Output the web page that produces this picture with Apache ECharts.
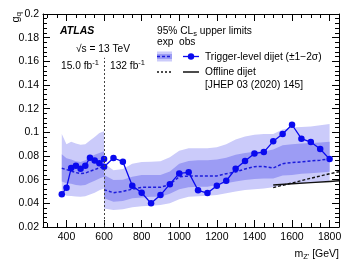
<!DOCTYPE html>
<html><head><meta charset="utf-8">
<script src="https://cdn.jsdelivr.net/npm/echarts@6/dist/echarts.min.js"></script>
<style>html,body{margin:0;padding:0;background:#fff}#c{width:352px;height:271px}</style>
</head><body><div id="c"></div>
<script>
// ---- data ----
const xSeg1 = [375,400,425,450,475,500,525,550,575,600];
const obs1  = [0.0476,0.0532,0.0698,0.0718,0.0692,0.0718,0.0786,0.0763,0.0738,0.0775];
const exp1  = [0.0696,0.0685,0.0672,0.0660,0.0652,0.0655,0.0672,0.0685,0.0700,0.0712];
const p1s1  = [0.0815,0.0780,0.0770,0.0755,0.0750,0.0765,0.0790,0.0810,0.0825,0.0840];
const m1s1  = [0.0585,0.0570,0.0565,0.0555,0.0550,0.0555,0.0575,0.0590,0.0610,0.0625];
const p2s1  = [0.0985,0.0900,0.0920,0.0905,0.0895,0.0900,0.0930,0.0960,0.0995,0.1010];
const m2s1  = [0.0485,0.0465,0.0462,0.0458,0.0455,0.0460,0.0475,0.0490,0.0510,0.0525];

const xSeg2 = [600,650,700,750,800,850,900,950,1000,1050,1100,1150,1200,1250,1300,1350,1400,1450,1500,1550,1600,1650,1700,1750,1800];
const obs2  = [0.0710,0.0783,0.0752,0.0549,0.0489,0.0400,0.0470,0.0562,0.0653,0.0662,0.0510,0.0487,0.0549,0.0591,0.0692,0.0758,0.0822,0.0833,0.0924,0.0986,0.1064,0.0946,0.0918,0.0859,0.0774];
const exp2  = [0.0515,0.0490,0.0500,0.0520,0.0535,0.0535,0.0535,0.0560,0.0625,0.0630,0.0630,0.0630,0.0632,0.0650,0.0665,0.0690,0.0710,0.0712,0.0698,0.0735,0.0745,0.0750,0.0758,0.0765,0.0775];
const p1s2  = [0.0640,0.0597,0.0600,0.0625,0.0640,0.0640,0.0640,0.0670,0.0735,0.0758,0.0765,0.0765,0.0770,0.0785,0.0810,0.0825,0.0835,0.0838,0.0855,0.0890,0.0900,0.0905,0.0910,0.0915,0.0920];
const m1s2  = [0.0442,0.0413,0.0420,0.0442,0.0450,0.0455,0.0456,0.0480,0.0520,0.0535,0.0540,0.0540,0.0555,0.0570,0.0585,0.0597,0.0605,0.0610,0.0610,0.0635,0.0640,0.0650,0.0655,0.0660,0.0667];
const p2s2  = [0.0738,0.0680,0.0690,0.0735,0.0750,0.0752,0.0755,0.0790,0.0845,0.0865,0.0865,0.0865,0.0875,0.0900,0.0940,0.0965,0.0980,0.0985,0.0985,0.1025,0.1040,0.1045,0.1050,0.1060,0.1070];
const m2s2  = [0.0357,0.0343,0.0350,0.0366,0.0375,0.0380,0.0385,0.0400,0.0435,0.0455,0.0460,0.0465,0.0470,0.0485,0.0500,0.0512,0.0520,0.0525,0.0535,0.0550,0.0565,0.0570,0.0575,0.0580,0.0585];

const xOff   = [1500,1600,1700,1800,1850];
const offObs = [0.0555,0.0565,0.0575,0.0585,0.0590];
const offExp = [0.0533,0.0572,0.0612,0.0650,0.0667];

const xMajorTicks = [400,600,800,1000,1200,1400,1600,1800];
const xMinorTicks = [300,350,450,500,550,650,700,750,850,900,950,1050,1100,1150,1250,1300,1350,1450,1500,1550,1650,1700,1750,1850];
const lumiDivider = [600, 0.02, 0.163];

const FONT = 'Liberation Sans, Arial, Helvetica, sans-serif';
const LIGHT = '#cbcbfa', DARK = '#9c9cf4', BLUE = '#0a0aee';
const FS = 10.2;

function band(xs, lo, hi, color) {
  return {
    type: 'custom', silent: true, clip: true, z: 1,
    data: xs.map((x, i) => [x, lo[i], hi[i]]),
    encode: { x: 0, y: [1, 2] },
    renderItem: function (params, api) {
      if (params.dataIndex !== 0) return null;
      const pts = [];
      for (let i = 0; i < xs.length; i++) pts.push(api.coord([xs[i], hi[i]]));
      for (let i = xs.length - 1; i >= 0; i--) pts.push(api.coord([xs[i], lo[i]]));
      return { type: 'polygon', shape: { points: pts }, style: { fill: color, stroke: null } };
    }
  };
}
function pairs(xs, ys) { return xs.map((x, i) => [x, ys[i]]); }

const baseX = { type: 'value', min: 275, max: 1850, splitLine: { show: false }, gridIndex: 0 };
const chart = echarts.init(document.getElementById('c'), null, { renderer: 'canvas' });
chart.setOption({
  animation: false,
  backgroundColor: '#fff',
  grid: { left: 43, right: 13, top: 14, bottom: 44 },
  xAxis: [
    Object.assign({}, baseX, { position: 'bottom',
      axisLine: { show: true, lineStyle: { color: '#000', width: 1 } },
      axisTick: { show: true, inside: true, length: 7, customValues: xMajorTicks, lineStyle: { color: '#000' } },
      axisLabel: { show: true, customValues: xMajorTicks, color: '#000', fontSize: 10.5, fontFamily: FONT, margin: 5,
        formatter: v => String(v) } }),
    Object.assign({}, baseX, { position: 'bottom',
      axisLine: { show: false },
      axisTick: { show: true, inside: true, length: 4, customValues: xMinorTicks, lineStyle: { color: '#000' } },
      axisLabel: { show: false } }),
    Object.assign({}, baseX, { position: 'top',
      axisLine: { show: true, lineStyle: { color: '#000', width: 1 } },
      axisTick: { show: true, inside: true, length: 7, customValues: xMajorTicks, lineStyle: { color: '#000' } },
      axisLabel: { show: false } }),
    Object.assign({}, baseX, { position: 'top',
      axisLine: { show: false },
      axisTick: { show: true, inside: true, length: 4, customValues: xMinorTicks, lineStyle: { color: '#000' } },
      axisLabel: { show: false } })
  ],
  yAxis: [
    { type: 'value', min: 0.02, max: 0.2, interval: 0.02, position: 'left',
      splitLine: { show: false },
      axisLine: { show: true, lineStyle: { color: '#000' } },
      axisTick: { show: true, inside: true, length: 7, lineStyle: { color: '#000' } },
      minorTick: { show: true, splitNumber: 5, length: 4, lineStyle: { color: '#000' } },
      axisLabel: { color: '#000', fontSize: 10.5, fontFamily: FONT, margin: 4,
        formatter: v => String(+v.toFixed(3)) } },
    { type: 'value', min: 0.02, max: 0.2, interval: 0.02, position: 'right',
      splitLine: { show: false },
      axisLine: { show: true, lineStyle: { color: '#000' } },
      axisTick: { show: true, inside: true, length: 7, lineStyle: { color: '#000' } },
      minorTick: { show: true, splitNumber: 5, length: 4, lineStyle: { color: '#000' } },
      axisLabel: { show: false } }
  ],
  series: [
    band(xSeg1, m2s1, p2s1, LIGHT),
    band(xSeg1, m1s1, p1s1, DARK),
    band(xSeg2, m2s2, p2s2, LIGHT),
    band(xSeg2, m1s2, p1s2, DARK),
    { type: 'line', data: pairs(xSeg1, exp1), symbol: 'none', z: 3,
      lineStyle: { color: '#1c1cdc', width: 1.5, type: [3, 2] } },
    { type: 'line', data: pairs(xSeg2, exp2), symbol: 'none', z: 3,
      lineStyle: { color: '#1c1cdc', width: 1.5, type: [3, 2] } },
    { type: 'line', data: pairs(xOff, offExp), symbol: 'none', z: 3,
      lineStyle: { color: '#111', width: 1.4, type: [3, 2] } },
    { type: 'line', data: pairs(xOff, offObs), symbol: 'none', z: 3,
      lineStyle: { color: '#111', width: 1.5 } },
    { type: 'line', data: pairs(xSeg1, obs1), symbol: 'circle', symbolSize: 6.5, z: 4,
      itemStyle: { color: BLUE }, lineStyle: { color: BLUE, width: 1.3 },
      markLine: { silent: true, symbol: 'none', label: { show: false },
        lineStyle: { color: '#444', width: 1, type: [2, 2] },
        data: [[{ coord: [lumiDivider[0], lumiDivider[1]] }, { coord: [lumiDivider[0], lumiDivider[2]] }]] } },
    { type: 'line', data: pairs(xSeg2, obs2), symbol: 'circle', symbolSize: 6.5, z: 4,
      itemStyle: { color: BLUE }, lineStyle: { color: BLUE, width: 1.3 } }
  ],
  graphic: [
    // axis titles
    { type: 'text', x: 16, y: 12, rotation: Math.PI / 2, z: 10,
      style: { text: '{a|g}{s|q}', align: 'right', verticalAlign: 'middle',
        rich: { a: { fontSize: 11, fontFamily: FONT, fill: '#000' }, s: { fontSize: 8, fontFamily: FONT, fill: '#000', padding: [6, 0, 0, 0] } } } },
    { type: 'text', x: 339, y: 254, z: 10,
      style: { text: '{a|m}{s|Z\'}{a| [GeV]}', align: 'right', verticalAlign: 'middle',
        rich: { a: { fontSize: 10.5, fontFamily: FONT, fill: '#000' }, s: { fontSize: 7.5, fontFamily: FONT, fill: '#000', padding: [6, 0, 0, 0] } } } },
    // labels in plot
    { type: 'text', x: 60, y: 31, z: 10,
      style: { text: 'ATLAS', fontSize: 10.5, fontWeight: 'bold', fontStyle: 'italic', fontFamily: FONT, fill: '#000', verticalAlign: 'middle' } },
    { type: 'text', x: 76, y: 49, z: 10,
      style: { text: '\u221As = 13 TeV', fontSize: FS, fontFamily: FONT, fill: '#000', verticalAlign: 'middle' } },
    { type: 'text', x: 61, y: 66, z: 10,
      style: { text: '{a|15.0 fb}{p|-1}', verticalAlign: 'middle',
        rich: { a: { fontSize: FS, fontFamily: FONT, fill: '#000' }, p: { fontSize: 7.5, fontFamily: FONT, fill: '#000', padding: [0, 0, 6, 0] } } } },
    { type: 'text', x: 110, y: 66, z: 10,
      style: { text: '{a|132 fb}{p|-1}', verticalAlign: 'middle',
        rich: { a: { fontSize: FS, fontFamily: FONT, fill: '#000' }, p: { fontSize: 7.5, fontFamily: FONT, fill: '#000', padding: [0, 0, 6, 0] } } } },
    { type: 'text', x: 157, y: 31, z: 10,
      style: { text: '{a|95% CL}{s|s}{a| upper limits}', verticalAlign: 'middle',
        rich: { a: { fontSize: FS, fontFamily: FONT, fill: '#000' }, s: { fontSize: 7.5, fontFamily: FONT, fill: '#000', padding: [6, 0, 0, 0] } } } },
    { type: 'text', x: 157, y: 42, z: 10,
      style: { text: 'exp', fontSize: FS, fontFamily: FONT, fill: '#000', verticalAlign: 'middle' } },
    { type: 'text', x: 179, y: 42, z: 10,
      style: { text: 'obs', fontSize: FS, fontFamily: FONT, fill: '#000', verticalAlign: 'middle' } },
    // legend symbols row 1
    { type: 'rect', shape: { x: 157, y: 51.5, width: 15, height: 10 }, style: { fill: LIGHT }, z: 10 },
    { type: 'rect', shape: { x: 157, y: 54, width: 15, height: 5 }, style: { fill: DARK }, z: 10 },
    { type: 'line', shape: { x1: 157, y1: 56.5, x2: 172, y2: 56.5 }, style: { stroke: '#1c1cdc', lineWidth: 1.5, lineDash: [3, 2] }, z: 11 },
    { type: 'line', shape: { x1: 183, y1: 56.5, x2: 199, y2: 56.5 }, style: { stroke: BLUE, lineWidth: 1.3 }, z: 11 },
    { type: 'circle', shape: { cx: 191, cy: 56.5, r: 3.2 }, style: { fill: BLUE }, z: 11 },
    { type: 'text', x: 205, y: 57, z: 10,
      style: { text: 'Trigger-level dijet (\u00B11\u22122\u03C3)', fontSize: FS, fontFamily: FONT, fill: '#000', verticalAlign: 'middle' } },
    // legend row 2
    { type: 'line', shape: { x1: 157, y1: 72, x2: 172, y2: 72 }, style: { stroke: '#111', lineWidth: 1.4, lineDash: [2, 2] }, z: 11 },
    { type: 'line', shape: { x1: 183, y1: 72, x2: 199, y2: 72 }, style: { stroke: '#111', lineWidth: 1.5 }, z: 11 },
    { type: 'text', x: 205, y: 72, z: 10,
      style: { text: 'Offline dijet', fontSize: FS, fontFamily: FONT, fill: '#000', verticalAlign: 'middle' } },
    { type: 'text', x: 205, y: 85, z: 10,
      style: { text: '[JHEP 03 (2020) 145]', fontSize: FS, fontFamily: FONT, fill: '#000', verticalAlign: 'middle' } }
  ]
});
</script></body></html>
